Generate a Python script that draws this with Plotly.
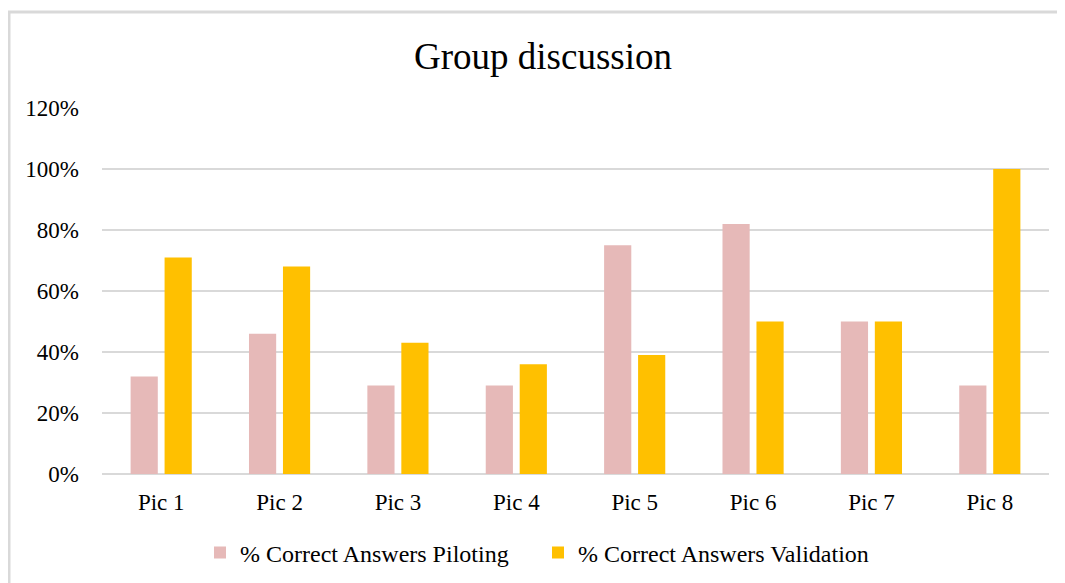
import plotly.graph_objects as go

categories = ["Pic 1", "Pic 2", "Pic 3", "Pic 4", "Pic 5", "Pic 6", "Pic 7", "Pic 8"]
piloting = [0.32, 0.46, 0.29, 0.29, 0.75, 0.82, 0.50, 0.29]
validation = [0.71, 0.68, 0.43, 0.36, 0.39, 0.50, 0.50, 1.00]
tick_vals = [0, 0.2, 0.4, 0.6, 0.8, 1.0, 1.2]
tick_text = ["0%", "20%", "40%", "60%", "80%", "100%", "120%"]

# page has an 8px body margin, so figure is laid out in shifted coordinates
OFF = 8
W, H = 1065 - OFF, 583 - OFF
L, T = 102 - OFF, 108 - OFF
R = W - (1049 - OFF)
B = H - (474 - OFF)
pw, ph = W - L - R, H - T - B

font = "Liberation Serif, Times New Roman, serif"

fig = go.Figure()
fig.add_trace(go.Bar(x=categories, y=piloting, name="% Correct Answers Piloting",
                     marker=dict(color="#E6B9B8", line=dict(width=0))))
fig.add_trace(go.Bar(x=categories, y=validation, name="% Correct Answers Validation",
                     marker=dict(color="#FFC000", line=dict(width=0))))

fig.update_layout(
    width=W, height=H,
    margin=dict(l=L, r=R, t=T, b=B, pad=0, autoexpand=False),
    paper_bgcolor="white", plot_bgcolor="white",
    barmode="group", bargap=0.426, bargroupgap=0.2,
    font=dict(family=font, size=23, color="#000000"),
    title=dict(text="Group discussion", x=(543 - OFF - L) / pw, xanchor="center", xref="paper",
               y=1 - (56 - OFF) / H, yanchor="middle",
               font=dict(family=font, size=37, color="#000000")),
    legend=dict(orientation="h", x=(200 - OFF - L) / pw, xanchor="left",
                yref="container", y=1 - (553 - OFF) / H, yanchor="middle",
                font=dict(family=font, size=24), itemwidth=30,
                entrywidth=293, entrywidthmode="pixels",
                traceorder="normal"),
    showlegend=True,
)
fig.update_xaxes(showgrid=False, showline=False, ticks="", tickfont=dict(size=23),
                 ticklabelstandoff=12, fixedrange=True, automargin=False)
fig.update_yaxes(range=[0, 1.2], tickvals=tick_vals, ticktext=tick_text,
                 showgrid=True, gridcolor="#D9D9D9", gridwidth=2, zeroline=True,
                 zerolinecolor="#D9D9D9", zerolinewidth=2, showline=False,
                 ticks="", tickfont=dict(size=23), ticklabelstandoff=22, automargin=False)

# outer chart border (light gray), only top and left edges visible
fig.add_shape(type="rect", xref="paper", yref="paper",
              x0=(1 - L) / pw, x1=(W + 20 - L) / pw,
              y0=-(H + 20 - (T + ph)) / ph, y1=1 + (T - 4) / ph,
              line=dict(color="#D9D9D9", width=3), fillcolor="rgba(0,0,0,0)", layer="below")

fig.write_html("out.html")
